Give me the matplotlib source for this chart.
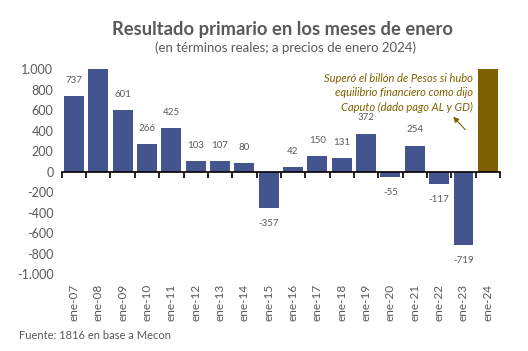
import matplotlib.pyplot as plt
from matplotlib.ticker import FuncFormatter, FixedLocator

plt.rcParams['font.family'] = ['Lato', 'DejaVu Sans']

categorias = ['ene-07', 'ene-08', 'ene-09', 'ene-10', 'ene-11', 'ene-12', 'ene-13', 'ene-14',
              'ene-15', 'ene-16', 'ene-17', 'ene-18', 'ene-19', 'ene-20', 'ene-21', 'ene-22',
              'ene-23', 'ene-24']
valores = [737, 1010, 601, 266, 425, 103, 107, 80, -357, 42, 150, 131, 372, -55, 254, -117, -719, 1000]
etiquetas = ['737', '', '601', '266', '425', '103', '107', '80', '-357', '42', '150', '131',
             '372', '-55', '254', '-117', '-719', '']

azul = '#44548F'
oro = '#7F6000'
gris = '#595959'

fig = plt.figure(figsize=(5.28, 3.51), dpi=100)
ax = fig.add_axes([0.117, 0.219, 0.830, 0.584])

x = list(range(len(categorias)))
colores = [azul] * (len(categorias) - 1) + [oro]
ax.bar(x, valores, width=0.82, color=colores, zorder=2)

for xi, v, t in zip(x, valores, etiquetas):
    if not t:
        continue
    if v >= 0:
        ax.annotate(t, (xi, v), xytext=(0, 8), textcoords='offset points',
                    ha='center', va='bottom', fontsize=7, color=gris)
    else:
        ax.annotate(t, (xi, v), xytext=(0, -8), textcoords='offset points',
                    ha='center', va='top', fontsize=7, color=gris)

ax.set_xlim(-0.5, len(categorias) - 0.5)
ax.set_ylim(-1000, 1000)
ax.set_yticks(range(-1000, 1001, 200))
ax.yaxis.set_major_formatter(FuncFormatter(lambda v, p: f'{int(v):,}'.replace(',', '.')))
ax.tick_params(axis='y', length=0, labelsize=9, labelcolor=gris, pad=6)

ax.set_xticks(x)
ax.set_xticklabels(categorias)
ax.tick_params(axis='x', which='major', length=0, labelsize=8.5, labelcolor=gris,
               rotation=90, pad=7)
ax.xaxis.set_minor_locator(FixedLocator([i - 0.5 for i in range(len(categorias) + 1)]))
ax.tick_params(axis='x', which='minor', bottom=False, top=True, direction='in',
               length=4, width=1.2, color='black')

for s in ['left', 'right', 'bottom']:
    ax.spines[s].set_visible(False)
ax.spines['top'].set_position(('data', 0))
ax.spines['top'].set_linewidth(1.2)
ax.spines['top'].set_zorder(3)

fig.text(0.535, 0.915, 'Resultado primario en los meses de enero', ha='center', va='center',
         fontsize=13.2, fontweight='bold', color=gris)
fig.text(0.54, 0.865, '(en términos reales; a precios de enero 2024)', ha='center',
         va='center', fontsize=9.5, color=gris)

ax.text(16.4, 960, 'Superó el billón de Pesos si hubo\nequilibrio financiero como dijo\nCaputo (dado pago AL y GD)',
        ha='right', va='top', fontsize=8, style='italic', color=oro, linespacing=1.35)
ax.annotate('', xy=(15.5, 556), xytext=(16.15, 390),
            arrowprops=dict(arrowstyle='-|>', color=oro, lw=0.8, mutation_scale=8))

fig.text(0.036, 0.043, 'Fuente: 1816 en base a Mecon', ha='left', va='center',
         fontsize=8, color=gris)

fig.savefig('out.png', dpi=100)
